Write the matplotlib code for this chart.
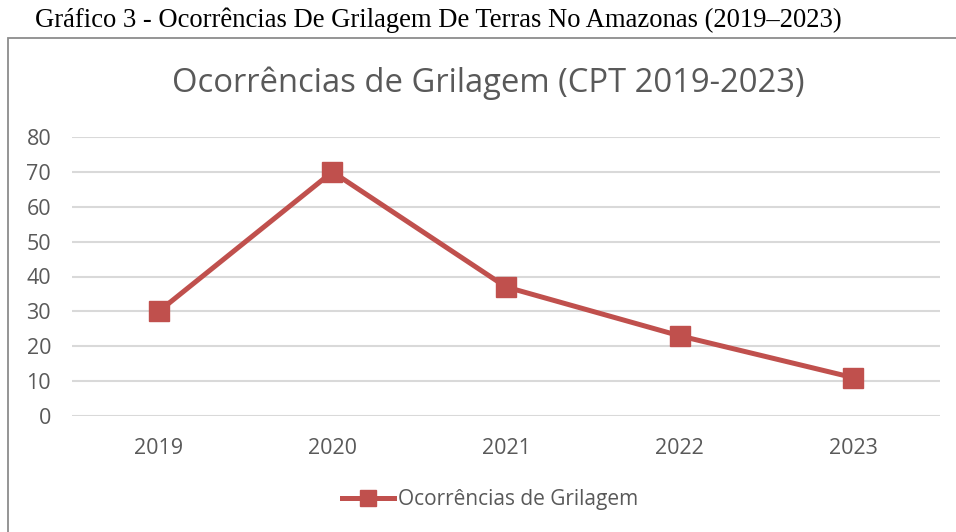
import matplotlib
matplotlib.use("Agg")
import matplotlib.pyplot as plt
from matplotlib.patches import Rectangle
from matplotlib.lines import Line2D

years = ["2019", "2020", "2021", "2022", "2023"]
values = [30, 70, 37, 23, 11]
yticks = [0, 10, 20, 30, 40, 50, 60, 70, 80]
series_name = "Ocorrências de Grilagem"
chart_title = "Ocorrências de Grilagem (CPT 2019-2023)"
outer_title = "Gráfico 3 - Ocorrências De Grilagem De Terras No Amazonas (2019–2023)"

W, H = 956, 532
fig = plt.figure(figsize=(W / 100, H / 100), dpi=100)
fig.patch.set_facecolor("white")

def fx(px):
    return px / W

def fy(py):
    return 1 - py / H

# outer frame
fig.patches.append(Rectangle((fx(8), fy(600)), 1.2, fy(38) - fy(600),
                             transform=fig.transFigure, fill=False,
                             edgecolor="#8c8c8c", linewidth=1.3))

fig.text(fx(35), fy(20), outer_title, family="Liberation Serif", fontsize=19.2,
         ha="left", va="center", color="black")
fig.text(fx(488), fy(83), chart_title, family="Open Sans", fontsize=23.6,
         ha="center", va="center", color="#595959")

ax = fig.add_axes([fx(72), fy(416), fx(940) - fx(72), fy(137) - fy(416)])
xs = list(range(len(years)))
ax.plot(xs, values, color="#C0504D", linewidth=3.6, marker="s",
        markersize=14, markerfacecolor="#C0504D", markeredgecolor="#C0504D",
        solid_joinstyle="miter")
ax.set_xlim(-0.5, len(years) - 0.5)
ax.set_ylim(0, 80)
ax.set_yticks(yticks)
ax.set_xticks(xs)
ax.set_xticklabels(years)
for s in ax.spines.values():
    s.set_visible(False)
ax.grid(axis="y", color="#d9d9d9", linewidth=1.5)
ax.set_axisbelow(True)
ax.tick_params(axis="both", length=0, labelsize=15.5, colors="#595959",
               labelfontfamily="Open Sans")
ax.tick_params(axis="x", pad=16)
ax.tick_params(axis="y", pad=15)

h = Line2D([], [], color="#C0504D", linewidth=3.6, marker="s", markersize=11,
           markerfacecolor="#C0504D", markeredgecolor="#C0504D")
fig.legend([h], [series_name], loc="center", bbox_to_anchor=(fx(490), fy(500)),
           frameon=False, prop={"family": "Open Sans", "size": 15},
           labelcolor="#595959", handlelength=2.5, handletextpad=0.2)

fig.savefig("out.png", dpi=100, facecolor="white")
